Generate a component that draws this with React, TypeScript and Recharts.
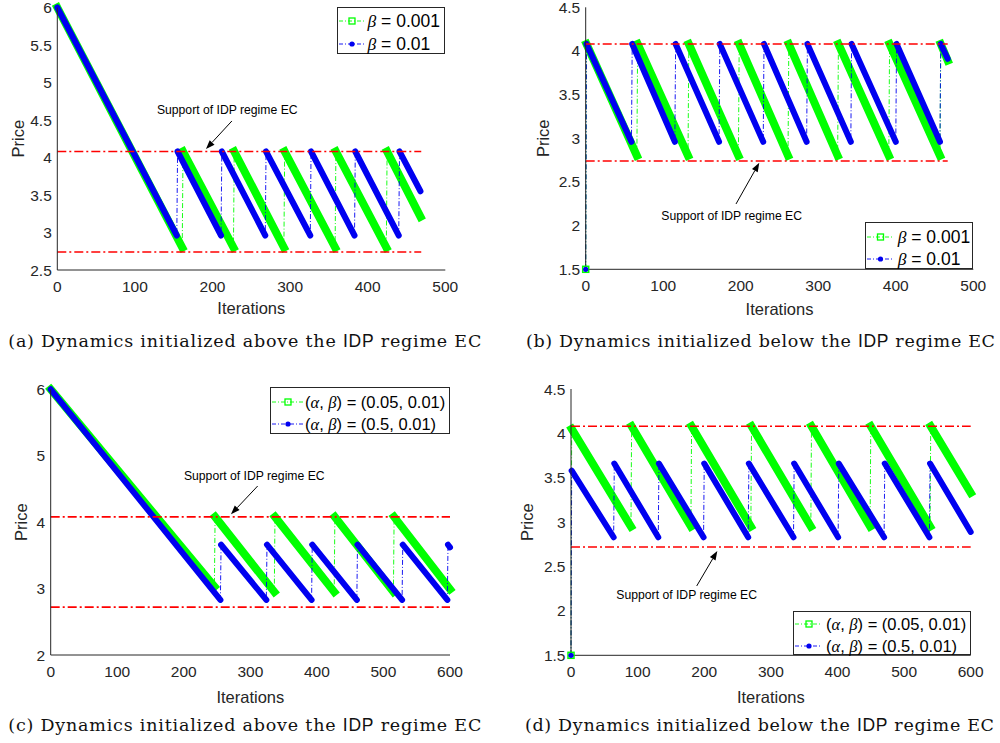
import React from "react";
import { LineChart, Line, XAxis, YAxis, ReferenceLine, ReferenceDot, Legend } from "recharts";

type Pt = [number, number];

// breakpoints (iteration, price): start, trough, jump top, ...
const aGreen: Pt[] = [[0, 6], [161, 2.8], [162, 4.08], [227, 2.8], [228, 4.08], [292, 2.8], [293, 4.08], [358, 2.8], [359, 4.08], [424, 2.8], [425, 4.08], [468, 3.21]];
const aBlue: Pt[] = [[0, 6], [154, 2.96], [155, 4.08], [211, 2.96], [212, 4.08], [268, 2.96], [269, 4.08], [326, 2.96], [327, 4.08], [383, 2.96], [384, 4.08], [440, 2.96], [441, 4.08], [468, 3.55]];
const bGreen: Pt[] = [[0, 1.5], [1, 4.08], [66, 2.8], [67, 4.08], [132, 2.8], [133, 4.08], [197, 2.8], [198, 4.08], [261, 2.8], [262, 4.08], [325, 2.8], [326, 4.08], [391, 2.8], [392, 4.08], [457, 2.8], [458, 4.08], [467, 3.89]];
const bBlue: Pt[] = [[0, 1.5], [1, 4.08], [59, 2.96], [60, 4.08], [115, 2.96], [116, 4.08], [172, 2.96], [173, 4.08], [229, 2.96], [230, 4.08], [285, 2.96], [286, 4.08], [342, 2.96], [343, 4.08], [400, 2.96], [401, 4.08], [457, 2.96], [458, 4.08], [467, 3.91]];
const cGreen: Pt[] = [[0, 6], [246, 3.03], [247, 4.08], [336, 2.95], [337, 4.08], [426, 2.95], [427, 4.08], [515, 2.95], [516, 4.08], [600, 2.99]];
const cBlue: Pt[] = [[0, 6], [255, 2.83], [256, 3.66], [324, 2.83], [325, 3.66], [392, 2.83], [393, 3.66], [460, 2.83], [461, 3.66], [528, 2.83], [529, 3.66], [596, 2.83], [597, 3.66], [600, 3.62]];
const dGreen: Pt[] = [[0, 1.5], [1, 4.05], [90, 2.95], [91, 4.08], [180, 2.95], [181, 4.08], [270, 2.95], [271, 4.08], [360, 2.95], [361, 4.08], [449, 2.95], [450, 4.08], [539, 2.95], [540, 4.08], [600, 3.33]];
const dBlue: Pt[] = [[0, 1.5], [1, 3.58], [64, 2.83], [65, 3.66], [131, 2.83], [132, 3.66], [199, 2.83], [200, 3.66], [266, 2.83], [267, 3.66], [334, 2.83], [335, 3.66], [401, 2.83], [402, 3.66], [470, 2.83], [471, 3.66], [538, 2.83], [539, 3.66], [600, 2.89]];

// support of the IDP regime EC (upper, lower) and where the dashed lines stop
const aBand = [4.08, 2.74];
const bBand = [4.08, 2.74];
const cBand = [4.08, 2.72];
const dBand = [4.08, 2.72];
const bandEnds = [469, 467, 600, 600];

const xTicks500 = [0, 100, 200, 300, 400, 500];
const xTicks600 = [0, 100, 200, 300, 400, 500, 600];
const aYTicks = [2.5, 3, 3.5, 4, 4.5, 5, 5.5, 6];
const bYTicks = [1.5, 2, 2.5, 3, 3.5, 4, 4.5];
const cYTicks = [2, 3, 4, 5, 6];
const dYTicks = [1.5, 2, 2.5, 3, 3.5, 4, 4.5];

const betaLabels = ["β = 0.001", "β = 0.01"];
const pairLabels = ["(α, β) = (0.05, 0.01)", "(α, β) = (0.5, 0.01)"];
const noteText = "Support of IDP regime EC";
const captionLeads = [
  "(a) Dynamics initialized above the",
  "(b) Dynamics initialized below the",
  "(c) Dynamics initialized above the",
  "(d) Dynamics initialized below the",
];
const captionTail = "regime EC";

// annotation anchors in data units: text centre, arrow tail, arrow tip
const aNote = { text: [219, 4.633], tail: [225, 4.487], head: [191.6, 4.113] };
const bNote = { text: [188.3, 2.11], tail: [193.9, 2.248], head: [223.9, 2.72] };
const cNote = { text: [305.9, 4.695], tail: [311, 4.544], head: [270.9, 4.118] };
const dNote = { text: [173.7, 2.18], tail: [188.7, 2.281], head: [219.6, 2.675] };

const AX = "#262626";
const SANS = "'Liberation Sans', Arial, sans-serif";
const GREEN = "#00FF00";
const BLUE = "#0000F0";
const RED = "#FF0000";
const W = 500;
const H = 340;
const YW = 40;
const XH = 45;
const TICK_FS = 15.5;

const descents = (pts: Pt[]) => {
  const out: { x: number; y: number | null }[] = [];
  for (let i = 0; i < pts.length - 1; i++) {
    const [x0, y0] = pts[i];
    const [x1, y1] = pts[i + 1];
    if (y1 < y0) out.push({ x: x0, y: y0 }, { x: x1, y: y1 }, { x: x1, y: null });
  }
  return out;
};
const path = (pts: Pt[]) => pts.map(([x, y]) => ({ x, y }));

const math = (s: string) =>
  s.split(/([αβ])/).map((part, i) =>
    /[αβ]/.test(part) ? (
      <span key={i} style={{ fontFamily: "'Liberation Serif', serif", fontStyle: "italic" }}>{part}</span>
    ) : (
      <span key={i}>{part}</span>
    )
  );

const Arrow = (p: any) => {
  const { x1, y1, x2, y2 } = p;
  const a = Math.atan2(y2 - y1, x2 - x1);
  const L = 9;
  const hw = 3.3;
  const bx = x2 - L * Math.cos(a);
  const by = y2 - L * Math.sin(a);
  const pts = `${x2},${y2} ${bx + hw * Math.sin(a)},${by - hw * Math.cos(a)} ${bx - hw * Math.sin(a)},${by + hw * Math.cos(a)}`;
  return (
    <g>
      <line x1={x1} y1={y1} x2={bx} y2={by} stroke="#000" strokeWidth={1} />
      <polygon points={pts} fill="#000" />
    </g>
  );
};

type LegendCfg = { x: number; y: number; w: number; h: number; rows: number[]; sampleW: number; textX: number; font: number };

const LegendBox = ({ lg, labels }: { lg: LegendCfg; labels: string[] }) => (
  <div style={{ position: "relative", width: lg.w, height: lg.h, boxSizing: "border-box", border: `1px solid ${AX}`, background: "#fff" }}>
    {labels.map((lab, i) => {
      const c = i === 0 ? GREEN : BLUE;
      const mid = lg.sampleW / 2 + 1;
      return (
        <div key={lab} style={{ position: "absolute", left: 0, top: lg.rows[i] - 12, height: 24, width: lg.w }}>
          <svg width={lg.sampleW + 2} height={24} style={{ position: "absolute", left: 0, top: 0 }}>
            <line x1={1} y1={12} x2={lg.sampleW} y2={12} stroke={c} strokeWidth={0.9} strokeDasharray="4 2 1 2" />
            {i === 0 ? (
              <rect x={mid - 3} y={9} width={6} height={6} fill="none" stroke={c} strokeWidth={1.3} />
            ) : (
              <circle cx={mid} cy={12} r={2.6} fill={c} />
            )}
          </svg>
          <div style={{ position: "absolute", left: lg.textX, top: 0, height: 24, lineHeight: "24px", whiteSpace: "nowrap", fontFamily: SANS, fontSize: lg.font, color: "#000" }}>
            {math(lab)}
          </div>
        </div>
      );
    })}
  </div>
);

type Cfg = {
  left: number;
  top: number;
  plot: { l: number; t: number; r: number; b: number };
  xDomain: [number, number];
  xTicks: number[];
  yDomain: [number, number];
  yTicks: number[];
  green: Pt[];
  blue: Pt[];
  band: number[];
  bandEnd: number;
  labels: string[];
  lg: LegendCfg;
  note: { text: number[]; tail: number[]; head: number[] };
  xLabelY: number;
  yLabelX: number;
  capX: number;
  capBase: number;
  capW: number;
  lead: string;
};

const panels: Cfg[] = [
  {
    left: 0, top: 0, plot: { l: 57.3, t: 7.5, r: 445.3, b: 270 },
    xDomain: [0, 500], xTicks: xTicks500, yDomain: [2.5, 6], yTicks: aYTicks,
    green: aGreen, blue: aBlue, band: aBand, bandEnd: bandEnds[0], labels: betaLabels,
    lg: { x: 337, y: 7, w: 108.3, h: 47, rows: [13, 36.3], sampleW: 26, textX: 29.5, font: 17.5 },
    note: aNote, xLabelY: 308.3, yLabelX: 18.3, capX: 8.3, capBase: 346.5, capW: 473, lead: captionLeads[0],
  },
  {
    left: 500, top: 0, plot: { l: 585.7, t: 7.3, r: 973.3, b: 269.3 },
    xDomain: [0, 500], xTicks: xTicks500, yDomain: [1.5, 4.5], yTicks: bYTicks,
    green: bGreen, blue: bBlue, band: bBand, bandEnd: bandEnds[1], labels: betaLabels,
    lg: { x: 865, y: 221.7, w: 108.3, h: 47.6, rows: [14.3, 36.6], sampleW: 27, textX: 31.7, font: 17.5 },
    note: bNote, xLabelY: 309.3, yLabelX: 543.3, capX: 526, capBase: 346.5, capW: 469, lead: captionLeads[1],
  },
  {
    left: 0, top: 370, plot: { l: 50.7, t: 389.3, r: 450, b: 655 },
    xDomain: [0, 600], xTicks: xTicks600, yDomain: [2, 6], yTicks: cYTicks,
    green: cGreen, blue: cBlue, band: cBand, bandEnd: bandEnds[2], labels: pairLabels,
    lg: { x: 270, y: 387, w: 180, h: 47, rows: [14, 36], sampleW: 32, textX: 34, font: 16.5 },
    note: cNote, xLabelY: 697, yLabelX: 20.7, capX: 8.3, capBase: 730.5, capW: 473, lead: captionLeads[2],
  },
  {
    left: 500, top: 370, plot: { l: 571, t: 389, r: 970.7, b: 655.3 },
    xDomain: [0, 600], xTicks: xTicks600, yDomain: [1.5, 4.5], yTicks: dYTicks,
    green: dGreen, blue: dBlue, band: dBand, bandEnd: bandEnds[3], labels: pairLabels,
    lg: { x: 793.3, y: 610.7, w: 177.4, h: 44.6, rows: [12.6, 34.3], sampleW: 28, textX: 31.7, font: 16.5 },
    note: dNote, xLabelY: 697, yLabelX: 526.7, capX: 525, capBase: 730.5, capW: 469, lead: captionLeads[3],
  },
];

function Panel({ cfg }: { cfg: Cfg }) {
  const { left, top, plot } = cfg;
  const margin = {
    left: plot.l - left - YW,
    top: plot.t - top,
    right: left + W - plot.r,
    bottom: top + H - plot.b - XH,
  };
  const tickStyle = { fill: AX, fontSize: TICK_FS, fontFamily: SANS };
  const green = cfg.green;
  const blue = cfg.blue;
  const jumpStart = (pts: Pt[]) => pts.length > 1 && pts[1][1] > pts[0][1];

  return (
    <div style={{ position: "absolute", left, top, width: W, height: H }}>
      <LineChart width={W} height={H} margin={margin}>
        <XAxis
          xAxisId={0} type="number" dataKey="x" domain={cfg.xDomain} ticks={cfg.xTicks} interval={0}
          height={XH} tickSize={0} tickMargin={11} tickLine={false} axisLine={{ stroke: AX }}
          tick={tickStyle} fontSize={TICK_FS} fontFamily={SANS}
          label={{
            content: (p: any) => (
              <text x={p.viewBox.x + p.viewBox.width / 2} y={cfg.xLabelY - top} textAnchor="middle" dominantBaseline="central" fill={AX} fontSize={16.5} fontFamily={SANS}>
                Iterations
              </text>
            ),
          }}
        />
        <XAxis xAxisId="xb" type="number" dataKey="x" domain={cfg.xDomain} ticks={cfg.xTicks} interval={0} orientation="bottom" mirror height={0} tick={false} tickSize={4} axisLine={false} tickLine={{ stroke: AX }} />
        <XAxis xAxisId="xt" type="number" dataKey="x" domain={cfg.xDomain} ticks={cfg.xTicks} interval={0} orientation="top" mirror height={0} tick={false} tickSize={4} axisLine={{ stroke: AX }} tickLine={{ stroke: AX }} />
        <YAxis
          yAxisId={0} type="number" domain={cfg.yDomain} ticks={cfg.yTicks} interval={0}
          width={YW} tickSize={0} tickMargin={5.5} tickLine={false} axisLine={{ stroke: AX }}
          tick={tickStyle} fontSize={TICK_FS} fontFamily={SANS}
          label={{
            content: () => {
              const cx = cfg.yLabelX - left;
              const cy = (plot.t + plot.b) / 2 - top;
              return (
                <text x={cx} y={cy} transform={`rotate(-90, ${cx}, ${cy})`} textAnchor="middle" dominantBaseline="central" fill={AX} fontSize={16.5} fontFamily={SANS}>
                  Price
                </text>
              );
            },
          }}
        />
        <YAxis yAxisId="yl" type="number" domain={cfg.yDomain} ticks={cfg.yTicks} interval={0} orientation="left" mirror width={0} tick={false} tickSize={4} axisLine={false} tickLine={{ stroke: AX }} />
        <YAxis yAxisId="yr" type="number" domain={cfg.yDomain} ticks={cfg.yTicks} interval={0} orientation="right" mirror width={0} tick={false} tickSize={4} axisLine={{ stroke: AX }} tickLine={{ stroke: AX }} />

        <Line xAxisId={0} yAxisId={0} data={path(green)} dataKey="y" stroke={GREEN} strokeWidth={0.9} strokeDasharray="5 2 1 2" dot={false} activeDot={false} isAnimationActive={false} legendType="none" />
        <Line xAxisId={0} yAxisId={0} data={descents(green)} dataKey="y" stroke={GREEN} strokeWidth={8} strokeLinecap="square" dot={false} activeDot={false} isAnimationActive={false} legendType="none" />
        <Line xAxisId={0} yAxisId={0} data={path(blue)} dataKey="y" stroke={BLUE} strokeWidth={0.9} strokeDasharray="5 2 1 2" dot={false} activeDot={false} isAnimationActive={false} legendType="none" />
        <Line xAxisId={0} yAxisId={0} data={descents(blue)} dataKey="y" stroke={BLUE} strokeWidth={6} strokeLinecap="round" dot={false} activeDot={false} isAnimationActive={false} legendType="none" />

        {jumpStart(green) && (
          <ReferenceDot xAxisId={0} yAxisId={0} x={green[0][0]} y={green[0][1]} r={3}
            shape={(p: any) => <rect x={p.cx - 3} y={p.cy - 3} width={6} height={6} fill="none" stroke={GREEN} strokeWidth={1.5} />} />
        )}
        {jumpStart(blue) && (
          <ReferenceDot xAxisId={0} yAxisId={0} x={blue[0][0]} y={blue[0][1]} r={3}
            shape={(p: any) => <circle cx={p.cx} cy={p.cy} r={2.6} fill={BLUE} />} />
        )}

        {cfg.band.map((v, i) => (
          <Line key={i} xAxisId={0} yAxisId={0} data={[{ x: cfg.xDomain[0], y: v }, { x: cfg.bandEnd, y: v }]} dataKey="y" stroke={RED} strokeWidth={1.6} strokeDasharray="9 3 2 3" dot={false} activeDot={false} isAnimationActive={false} legendType="none" />
        ))}

        <ReferenceLine xAxisId={0} yAxisId={0} segment={[{ x: cfg.note.tail[0], y: cfg.note.tail[1] }, { x: cfg.note.head[0], y: cfg.note.head[1] }]} shape={Arrow} />
        <ReferenceDot xAxisId={0} yAxisId={0} x={cfg.note.text[0]} y={cfg.note.text[1]} r={1}
          shape={(p: any) => (
            <text x={p.cx} y={p.cy} textAnchor="middle" dominantBaseline="central" fontSize={12.2} fontFamily={SANS} fill="#000">
              {noteText}
            </text>
          )} />

        <Legend verticalAlign="middle" align="center" layout="horizontal"
          wrapperStyle={{ left: cfg.lg.x - left, top: cfg.lg.y - top, width: cfg.lg.w, height: cfg.lg.h }}
          content={() => <LegendBox lg={cfg.lg} labels={cfg.labels} />} />
      </LineChart>
    </div>
  );
}

export default function App() {
  return (
    <div style={{ position: "absolute", left: 0, top: 0, width: 1000, height: 743, background: "#fff" }}>
      {panels.map((p, i) => (
        <Panel key={i} cfg={p} />
      ))}
      <svg width={1000} height={743} style={{ position: "absolute", left: 0, top: 0, pointerEvents: "none" }}>
        {panels.map((p, i) => (
          <text key={i} x={p.capX} y={p.capBase} fontFamily="'DejaVu Serif', serif" fontSize={17.5} fill="#111" textLength={p.capW} lengthAdjust="spacing">
            {p.lead + " "}
            <tspan fontFamily={SANS}>IDP</tspan>
            {" " + captionTail}
          </text>
        ))}
      </svg>
    </div>
  );
}
